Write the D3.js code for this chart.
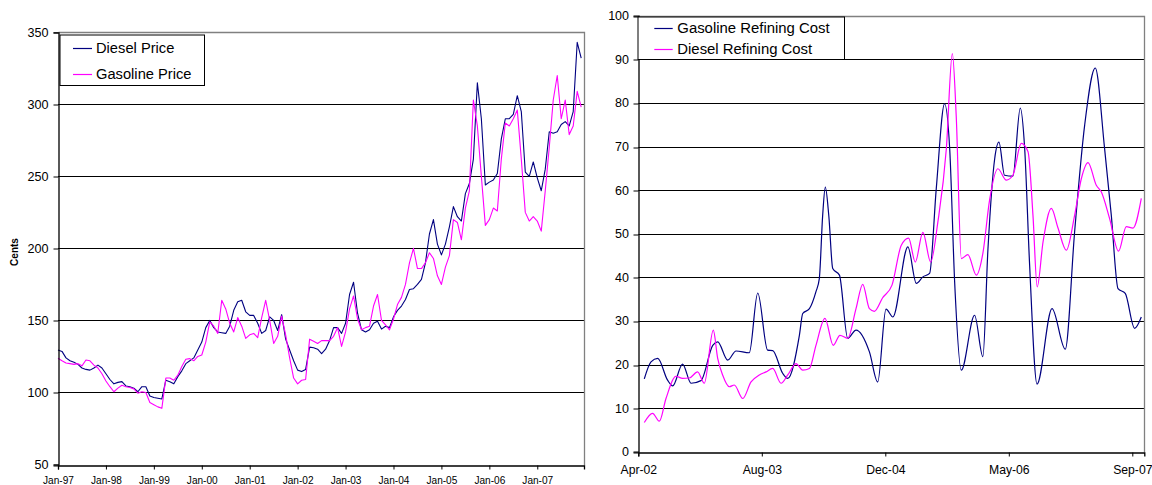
<!DOCTYPE html>
<html>
<head>
<meta charset="utf-8">
<script src="https://cdn.jsdelivr.net/npm/d3@7"></script>
<style>
  html, body { margin: 0; padding: 0; background: #fff; }
  svg { display: block; font-family: "Liberation Sans", Arial, sans-serif; }
</style>
</head>
<body>
<svg id="chart" width="1152" height="485"></svg>
<script>
// ---- Retail prices, cents per gallon, one value per month from Jan 1997 ----
const priceTickLabels = ["Jan-97", "Jan-98", "Jan-99", "Jan-00", "Jan-01", "Jan-02",
                         "Jan-03", "Jan-04", "Jan-05", "Jan-06", "Jan-07"];
const priceTicks = [50, 100, 150, 200, 250, 300, 350];

const dieselPrice = [
  129.5, 128.5, 124, 122, 121, 119.5, 117, 116, 115.5, 117, 119, 117,
  113, 109, 106, 107, 107.5, 104.5, 104, 103, 100.5, 104, 104, 97.5,
  96.5, 96, 95.5, 108.5, 107.5, 106, 111, 115, 120, 122, 124, 129.5,
  135, 145, 150, 145, 142, 141.5, 141, 146, 157, 163, 164, 156,
  153.5, 153.5, 148, 141, 143, 152.5, 150, 143, 154, 137, 129.5, 122,
  115.5, 114.5, 116, 131.5, 131, 130, 127, 130, 136, 145, 145, 141,
  148, 168, 176.5, 155, 143.5, 142, 143.5, 148, 149.5, 144, 146, 145,
  152.5, 157, 160, 164.5, 171.5, 172, 175, 178.5, 190, 210, 220, 203,
  195.5, 203, 215, 229, 222, 219, 238, 245, 262, 315, 290, 244,
  246, 247.5, 252, 276, 290, 290, 293, 306, 295, 253, 250, 260,
  249, 240, 255, 281, 280, 281, 286, 288, 285, 295, 343, 332
];
const gasolinePrice = [
  123.7, 122, 120.5, 120, 119.5, 120, 118.5, 122.5, 122, 119, 117, 113,
  108, 104, 100.5, 103, 105, 104, 103.5, 102.5, 99.5, 100.5, 100, 93,
  91.5, 90, 89, 110, 110, 108.5, 112, 118, 123, 123.5, 122, 125,
  126, 135, 149, 146, 141, 164, 158, 148, 142, 152, 146, 137.5,
  140, 141, 138, 152, 164, 150, 134, 139, 153, 140, 124, 110,
  106, 108.5, 109, 137, 135.5, 134, 136, 136, 136, 139, 145, 132,
  142, 158, 167, 151, 143.5, 145, 146, 160, 168, 150, 147, 143.5,
  151, 161, 166, 175, 190, 200, 186, 186, 190, 197, 193, 181,
  175, 187, 195, 220, 218, 206, 228, 240, 303, 285, 250, 216,
  220, 228, 226, 262, 287, 285, 290, 296, 262, 225, 219, 222,
  219, 212, 240, 270, 303, 320, 290, 303, 279, 285, 309, 298
];

// ---- Refining cost, cents per gallon, by week number counted from Apr 2002 ----
const costTickLabels = ["Apr-02", "Aug-03", "Dec-04", "May-06", "Sep-07"];
const costTickWeeks = [0, 70, 140, 210, 280];
const costTicks = [0, 10, 20, 30, 40, 50, 60, 70, 80, 90, 100];

const gasolineWeeks = [
  3.4, 7.2, 11, 16.6, 19.5, 25.1, 29.9, 35.5, 42.2, 45, 50.7, 55.4, 62.9, 67.7,
  73.3, 76.2, 81.8, 84.7, 91.3, 93.2, 97, 100.7, 102.6, 104.5, 106, 108, 110.2,
  114, 118.7, 123.4, 131, 135.7, 140.4, 144.3, 152.8, 157.6, 161.3, 165.1,
  168.9, 173.6, 176.5, 179.3, 183.1, 190.6, 195.3, 198.2, 202, 204.4, 207.6,
  212.3, 216.5, 219, 221.8, 226, 234.5, 242, 247.3, 253, 259, 264.3, 268.1,
  271.9, 276, 281.3, 285.1
];
const gasolineCost = [
  16.7, 20.6, 21.4, 16.4, 15.1, 20.1, 15.7, 16.3, 24.4, 25.2, 21, 23.1, 22.7, 36.4,
  23.3, 23.2, 18, 16.8, 26.7, 31.7, 32.8, 36.7, 39.7, 54.2, 60.7, 54, 42,
  40.5, 26, 27.9, 22.9, 16, 32.7, 30.9, 47, 38.6, 40.1, 40.9,
  60.4, 79.8, 69.5, 39, 18.7, 31.3, 21.8, 46.6, 67.2, 71, 63.4,
  63.2, 78.8, 69.5, 42.8, 15.5, 32.8, 23.5, 50.4, 74.9, 88, 69.5, 54.2,
  37.4, 36.3, 28.3, 30.9
];

const dieselWeeks = [
  3.4, 8.1, 11.9, 15.7, 21.4, 25.1, 28.9, 33.6, 37.4, 42.5, 45, 47.8, 51.6, 54.4,
  59.2, 63.9, 68.6, 72.4, 76.2, 80.9, 84.7, 89.4, 93.2, 97, 100.7, 105.8, 110.5,
  114.3, 118.7, 123.4, 127.2, 131, 133.8, 138.5, 143.8, 149, 153.2, 157, 161.3,
  165.7, 169.8, 174.6, 178, 180.2, 183.1, 186.8, 191.6, 195.3, 199.1, 203.8,
  208.6, 212.3, 217.1, 220.9, 223.7, 226.1, 229.4, 234.1, 237.9, 242.6, 247.3,
  251.1, 254.9, 259.6, 262.4, 267.1, 272.2, 276.6, 280.4, 285.1
];
const dieselCost = [
  6.7, 8.8, 7, 12.2, 17.3, 16.8, 16.9, 18.3, 15.7, 27.9, 21.4, 17.6, 14.9, 15.3,
  12.2, 16, 17.6, 18.3, 19.1, 15.7, 17.6, 20.2, 18.7, 19.1, 24.4, 30.6, 24.4,
  26.7, 26, 32.8, 38.4, 32.8, 32.2, 35.3, 38.2, 47.3, 49, 43.5, 50.3,
  43.5, 52.7, 69.5, 91.3, 77, 44.3, 45.2, 40.5, 45.5, 57.7, 64.9,
  62.3, 63.4, 70.7, 68.8, 54.2, 37.8, 48.1, 55.8, 51.3, 46.2, 54.2,
  62.6, 66.3, 61.1, 59.6, 53.5, 46, 51.6, 51.3, 58.1
];

const NAVY = "#000080";
const MAGENTA = "#FF00FF";

const svg = d3.select("#chart");
const crisp = v => Math.round(v) + 0.5;

// Shared plot builder: gridlines, frame, axes, series, legend
function drawPanel(cfg) {
  const g = svg.append("g");
  const [x0, x1] = cfg.x.range();
  const [yb, yt] = cfg.y.range();

  // horizontal gridlines
  g.selectAll("line.grid")
    .data(cfg.yTicks.filter(v => v !== cfg.yTicks[0] && v !== cfg.yTicks[cfg.yTicks.length - 1]))
    .join("line")
    .attr("x1", x0).attr("x2", x1)
    .attr("y1", d => crisp(cfg.y(d))).attr("y2", d => crisp(cfg.y(d)))
    .attr("stroke", "#000").attr("stroke-width", 1);

  // plot frame: gray top and right edges
  g.append("path")
    .attr("d", `M${crisp(x0)},${crisp(yt)}H${crisp(x1)}V${crisp(yb)}`)
    .attr("fill", "none").attr("stroke", "#808080").attr("stroke-width", 1.3);

  // series
  cfg.series.forEach(s => {
    const line = d3.line()
      .x((d, i) => cfg.x(s.xs[i]))
      .y(d => cfg.y(d))
      .curve(s.curve);
    g.append("path")
      .datum(s.values)
      .attr("d", line)
      .attr("fill", "none")
      .attr("stroke", s.color)
      .attr("stroke-width", cfg.lineWidth)
      .attr("stroke-linejoin", "round");
  });

  // y axis
  const yAxis = g.append("g")
    .attr("transform", `translate(${crisp(x0)},0)`)
    .call(d3.axisLeft(cfg.y).tickValues(cfg.yTicks).tickSize(5).tickPadding(cfg.yPad).tickFormat(d3.format("d")));
  yAxis.select(".domain").attr("stroke", "#000").attr("stroke-width", 1.3);
  yAxis.selectAll(".tick line").attr("stroke", "#000").attr("transform", d => `translate(0,${crisp(cfg.y(d)) - cfg.y(d)})`);
  yAxis.selectAll(".tick text")
    .attr("font-family", "Liberation Sans, Arial, sans-serif")
    .attr("font-size", cfg.yFont).attr("fill", "#000");

  // x axis
  const xAxis = g.append("g")
    .attr("transform", `translate(0,${crisp(yb)})`)
    .call(d3.axisBottom(cfg.x).tickValues(cfg.xTicks).tickSize(4).tickPadding(cfg.xPad)
      .tickFormat((d, i) => cfg.xLabels[i]));
  xAxis.select(".domain").attr("stroke", "#000").attr("stroke-width", 1.3);
  xAxis.selectAll(".tick line").attr("stroke", "#000");
  xAxis.selectAll(".tick text")
    .attr("font-family", "Liberation Sans, Arial, sans-serif")
    .attr("font-size", cfg.xFont).attr("fill", "#000");

  // legend
  const L = cfg.legend;
  const lg = g.append("g");
  lg.append("rect")
    .attr("x", L.x + 0.5).attr("y", L.y + 0.5)
    .attr("width", L.w).attr("height", L.h)
    .attr("fill", "#fff").attr("stroke", "#000").attr("stroke-width", 1);
  cfg.series.forEach((s, i) => {
    const cy = L.y + L.first + i * L.step;
    lg.append("line")
      .attr("x1", L.x + L.lineStart).attr("x2", L.x + L.lineStart + L.lineLen)
      .attr("y1", crisp(cy)).attr("y2", crisp(cy))
      .attr("stroke", s.color).attr("stroke-width", 1.2);
    lg.append("text")
      .attr("x", L.x + L.textStart).attr("y", cy)
      .attr("dy", "0.36em")
      .attr("font-size", L.font).attr("fill", "#000")
      .text(s.name);
  });
  return g;
}

// ---- Left panel: retail prices ----
const monthIndex = dieselPrice.map((d, i) => i);
const xPrice = d3.scaleLinear().domain([0, 131.7]).range([58, 584]);
const yPrice = d3.scaleLinear().domain([50, 350]).range([464.5, 32.3]);

drawPanel({
  x: xPrice, y: yPrice,
  yTicks: priceTicks,
  xTicks: priceTickLabels.map((d, i) => i * 12),
  xLabels: priceTickLabels,
  yFont: "12.6px", xFont: "10.1px", yPad: 5, xPad: 7,
  lineWidth: 1.1,
  series: [
    { name: "Diesel Price", color: NAVY, xs: monthIndex, values: dieselPrice, curve: d3.curveLinear },
    { name: "Gasoline Price", color: MAGENTA, xs: monthIndex, values: gasolinePrice, curve: d3.curveLinear }
  ],
  legend: { x: 59.5, y: 34.5, w: 144.5, h: 50.5, first: 13.5, step: 26,
            lineStart: 13.5, lineLen: 19, textStart: 36.5, font: "14.7px" }
});

// axis title
svg.append("text")
  .attr("transform", "translate(17.5,252) rotate(-90)")
  .attr("text-anchor", "middle")
  .attr("font-size", "10px").attr("font-weight", "bold")
  .text("Cents");

// ---- Right panel: refining cost ----
const xCost = d3.scaleLinear().domain([0, 286.8]).range([638.3, 1144.3]);
const yCost = d3.scaleLinear().domain([0, 100]).range([451.7, 15.7]);

drawPanel({
  x: xCost, y: yCost,
  yTicks: costTicks,
  xTicks: costTickWeeks,
  xLabels: costTickLabels,
  yFont: "12.5px", xFont: "12.2px", yPad: 4.5, xPad: 9,
  lineWidth: 1.2,
  series: [
    { name: "Gasoline Refining Cost", color: NAVY, xs: gasolineWeeks, values: gasolineCost, curve: d3.curveMonotoneX },
    { name: "Diesel Refining Cost", color: MAGENTA, xs: dieselWeeks, values: dieselCost, curve: d3.curveMonotoneX }
  ],
  legend: { x: 637.5, y: 16.5, w: 206.5, h: 42.5, first: 11.2, step: 21.3,
            lineStart: 16.8, lineLen: 18.4, textStart: 39.8, font: "14.9px" }
});
</script>
</body>
</html>
